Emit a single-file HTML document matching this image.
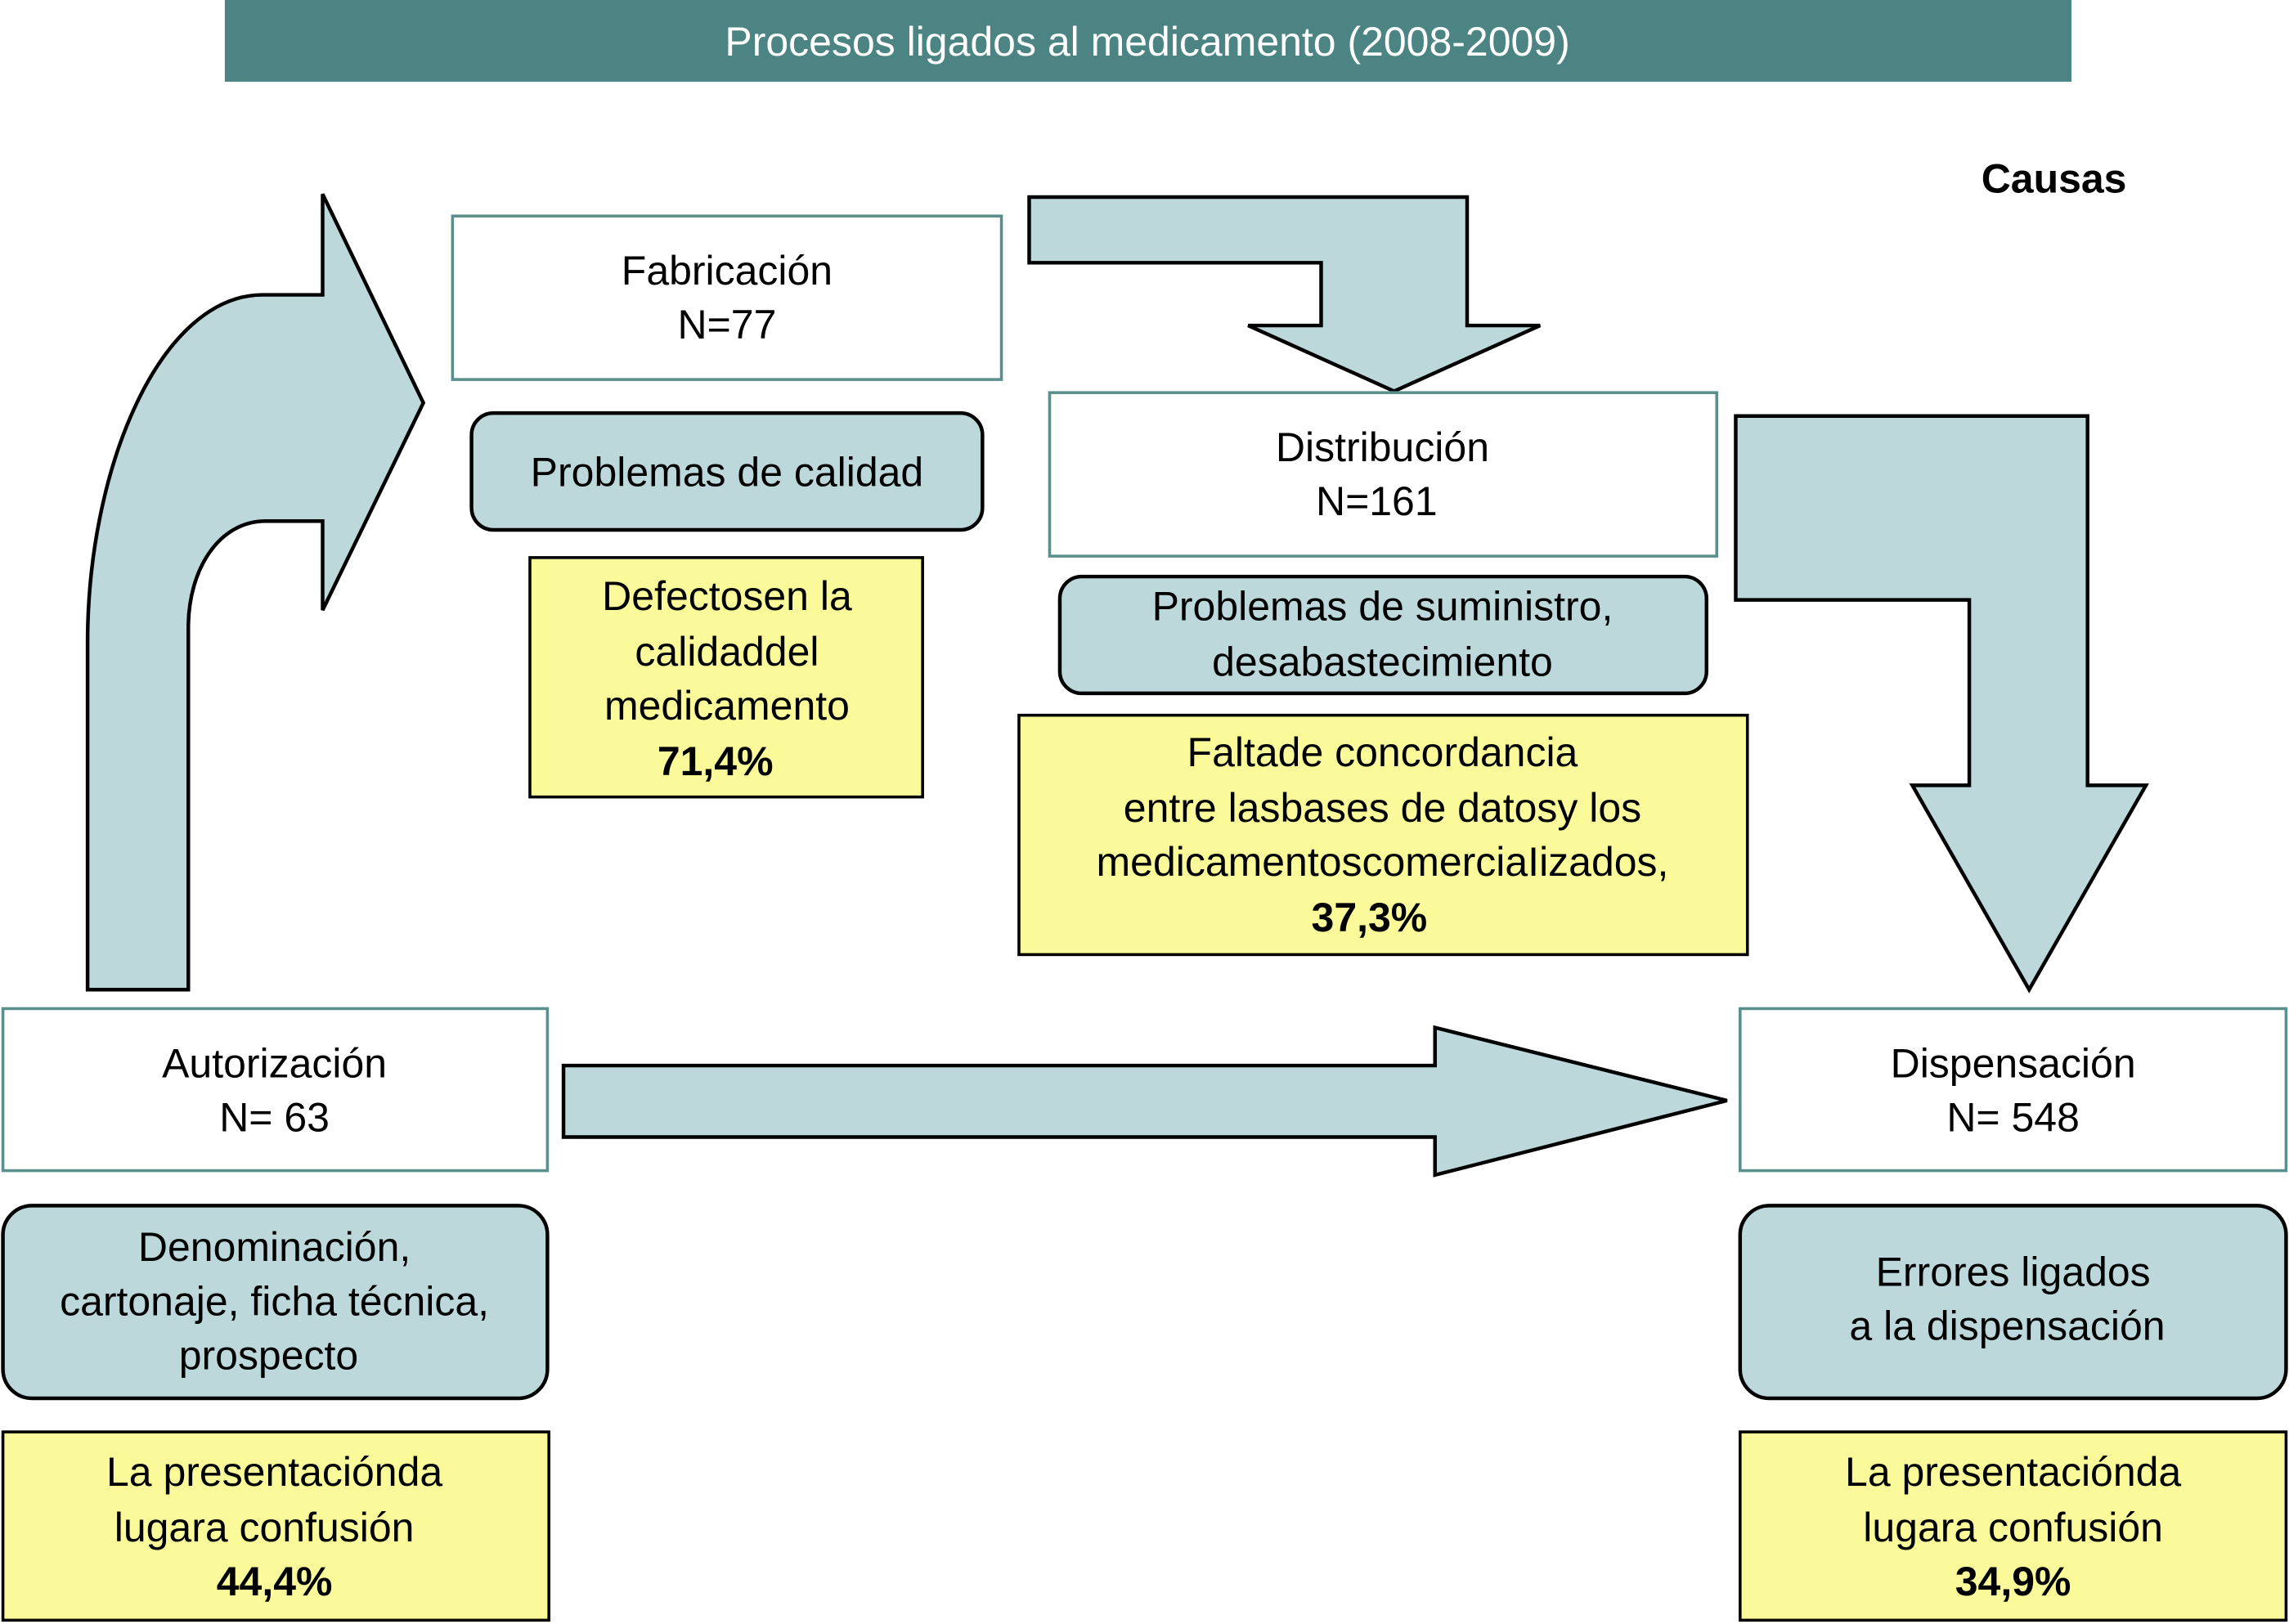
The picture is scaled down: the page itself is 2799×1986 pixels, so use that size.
<!DOCTYPE html>
<html><head><meta charset="utf-8"><style>
html,body{margin:0;padding:0;background:#fff;}
svg{display:block;}
text{font-family:"Liberation Sans",Arial,sans-serif;font-size:28px;fill:#000;text-anchor:middle;}
.b{font-weight:bold;}
</style></head><body>
<svg width="2799" height="1986" viewBox="0 0 1568 1112.6" preserveAspectRatio="none" xmlns="http://www.w3.org/2000/svg">
<rect x="154" y="0" width="1265" height="56" fill="#4b8482"/>
<text x="786" y="38" style="fill:#fff">Procesos ligados al medicamento (2008-2009)</text>
<text x="1407" y="132" class="b">Causas</text>

<g fill="#bdd8db" stroke="#000" stroke-width="2.5" stroke-linejoin="miter">
<path d="M60,678 L60,440 C60,320 110,202 180,202 L221,202 L221,133 L290,276 L221,418 L221,357 L182,357 C150,357 129,390 129,430 L129,678 Z"/>
<path d="M705,135 L1005,135 L1005,223 L1055,223 L955,268 L855,223 L905,223 L905,180 L705,180 Z"/>
<path d="M1189,285 L1430,285 L1430,538 L1470,538 L1390,678 L1310,538 L1349,538 L1349,411 L1189,411 Z"/>
<path d="M386,730 L983,730 L983,704 L1183,754 L983,805 L983,779 L386,779 Z"/>
<rect x="323" y="283" width="350" height="80" rx="15"/>
<rect x="726" y="395" width="443" height="80" rx="15"/>
<rect x="2" y="826" width="373" height="132" rx="20"/>
<rect x="1192" y="826" width="374" height="132" rx="20"/>
</g>
<g fill="#fff" stroke="#5b8f8d" stroke-width="2">
<rect x="310" y="148" width="376" height="112"/>
<rect x="719" y="269" width="457" height="112"/>
<rect x="2" y="691" width="373" height="111"/>
<rect x="1192" y="691" width="374" height="111"/>
</g>
<g fill="#fafa9a" stroke="#000" stroke-width="2">
<rect x="363" y="382" width="269" height="164"/>
<rect x="698" y="490" width="499" height="164"/>
<rect x="2" y="981" width="374" height="129"/>
<rect x="1192" y="981" width="374" height="129"/>
</g>

<text x="498" y="195">Fabricación</text>
<text x="498" y="232">N=77</text>
<text x="498" y="333">Problemas de calidad</text>
<text x="498" y="418">Defectosen la</text>
<text x="498" y="456">calidaddel</text>
<text x="498" y="493">medicamento</text>
<text x="490" y="531" class="b">71,4%</text>

<text x="947" y="316">Distribución</text>
<text x="943" y="353">N=161</text>
<text x="947" y="425">Problemas de suministro,</text>
<text x="947" y="463">desabastecimiento</text>
<text x="947" y="525">Faltade concordancia</text>
<text x="947" y="563">entre lasbases de datosy los</text>
<text x="947" y="600">medicamentoscomerciaIizados,</text>
<text x="938" y="638" class="b">37,3%</text>

<text x="188" y="738">Autorización</text>
<text x="188" y="775">N= 63</text>
<text x="188" y="864">Denominación,</text>
<text x="188" y="901">cartonaje, ficha técnica,</text>
<text x="184" y="938">prospecto</text>
<text x="188" y="1018">La presentaciónda</text>
<text x="181" y="1056">lugara confusión</text>
<text x="188" y="1093" class="b">44,4%</text>

<text x="1379" y="738">Dispensación</text>
<text x="1379" y="775">N= 548</text>
<text x="1379" y="881">Errores ligados</text>
<text x="1375" y="918">a la dispensación</text>
<text x="1379" y="1018">La presentaciónda</text>
<text x="1379" y="1056">lugara confusión</text>
<text x="1379" y="1093" class="b">34,9%</text>
</svg>
</body></html>
